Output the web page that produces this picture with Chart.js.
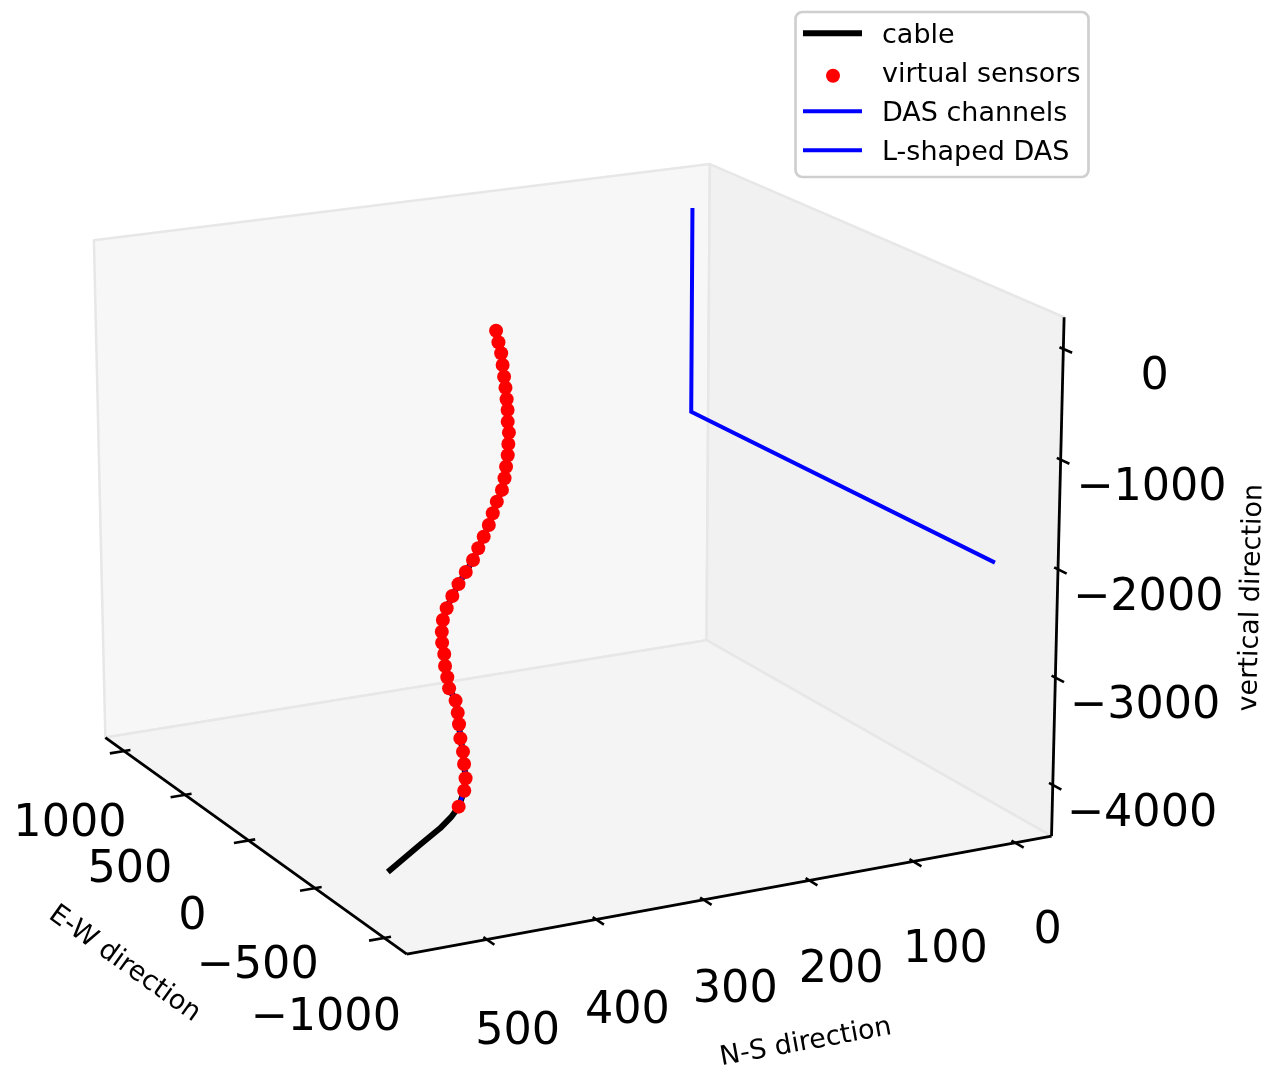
<!DOCTYPE html>
<html>
<head>
<meta charset="utf-8">
<script src="https://cdn.jsdelivr.net/npm/chart.js@4.4.1/dist/chart.umd.min.js"></script>
<style>
  html, body { margin: 0; padding: 0; background: #ffffff; }
  canvas { display: block; }
</style>
</head>
<body>
<canvas id="chart" width="1269" height="1067"></canvas>
<script>
// Virtual sensor stations along the well, one every 100 m of depth (metres)
const sensorEW = [-136, -145, -149, -159, -169, -171, -179, -178, -186, -187,
                  -190, -193, -196, -200, -204, -205, -206, -208, -209, -208,
                  -208, -209, -210, -211, -216, -219, -226, -228, -235, -248,
                  -256, -261, -284, -299, -308, -340, -366, -381, -414, -427, -463];
const sensorNS = [354, 353, 351, 351, 351, 350, 350, 349, 350, 349,
                  350, 351, 353, 355, 358, 363, 367, 371, 376, 381,
                  386, 393, 400, 406, 412, 416, 418, 418, 417, 418,
                  417, 416, 413, 413, 413, 416, 417, 418, 421, 424, 434];
const sensorZ = [0, -100, -200, -300, -400, -500, -600, -700, -800, -900,
                 -1000, -1100, -1200, -1300, -1400, -1500, -1600, -1700, -1800, -1900,
                 -2000, -2100, -2200, -2300, -2400, -2500, -2600, -2700, -2800, -2900,
                 -3000, -3100, -3200, -3300, -3400, -3500, -3600, -3700, -3800, -3900, -4000];

// Cable below the deepest sensor
const tailEW = [-519, -575, -646, -761];
const tailNS = [448, 466, 494, 538];
const tailZ = [-4020, -4048, -4091, -4159];

// L-shaped DAS fibre: vertical leg then horizontal leg
const lEW = [996, 996, -1004];
const lNS = [5, 5, 1];
const lZ = [0, -2000, -2000];

// Tick values of the three axes
const ewTicks = [-1000, -500, 0, 500, 1000];
const nsTicks = [0, 100, 200, 300, 400, 500];
const zTicks = [-4000, -3000, -2000, -1000, 0];

// Limits of the 3-D box
const ewLim = [-1158, 1158];
const nsLim = [-36, 572];
const zLim = [-4481, 284];

// ---- 3-D view: perspective camera looking at a 4:4:3 box ----
const VIEW = { elev: 17, azim: 152.5, dist: 17.5 };
const BOX = [1, 1, 0.75];          // half extents of the box
const WIN_X = [-1.599, 1.976];     // visible window of the projection plane
const WIN_Y = [-1.503, 1.511];

const RAD = Math.PI / 180;
const ce = Math.cos(VIEW.elev * RAD), se = Math.sin(VIEW.elev * RAD);
const ca = Math.cos(VIEW.azim * RAD), sa = Math.sin(VIEW.azim * RAD);
const EYE = [ce * ca, ce * sa, se];
const RIGHT = [-sa, ca, 0];
const UP = [-se * ca, -se * sa, ce];
const dot = (a, b) => a[0] * b[0] + a[1] * b[1] + a[2] * b[2];

function toBox(ew, ns, z) {
  return [
    BOX[0] * (2 * (ew - ewLim[0]) / (ewLim[1] - ewLim[0]) - 1),
    BOX[1] * (2 * (ns - nsLim[0]) / (nsLim[1] - nsLim[0]) - 1),
    BOX[2] * (2 * (z - zLim[0]) / (zLim[1] - zLim[0]) - 1)
  ];
}
function projBox(p) {
  const f = VIEW.dist / (VIEW.dist - dot(p, EYE));
  return { x: dot(p, RIGHT) * f, y: dot(p, UP) * f };
}
const project = (ew, ns, z) => projBox(toBox(ew, ns, z));
const track = (ew, ns, z) => ew.map((v, i) => project(v, ns[i], z[i]));

const cablePts = track(sensorEW.concat(tailEW), sensorNS.concat(tailNS), sensorZ.concat(tailZ));
const sensorPts = track(sensorEW, sensorNS, sensorZ);
const lPts = track(lEW, lNS, lZ);

const FONT = '"DejaVu Sans", "Liberation Sans", sans-serif';

// Panes, axis lines, ticks and labels of the 3-D box
const box3d = {
  id: 'box3d',
  beforeDatasetsDraw(chart) {
    const { ctx, scales: { x, y } } = chart;
    const px = p => { const q = projBox(p); return [x.getPixelForValue(q.x), y.getPixelForValue(q.y)]; };
    const h = BOX[2];
    const panes = [
      { pts: [[1, 1, -h], [1, -1, -h], [1, -1, h], [1, 1, h]], fill: '#f7f7f7' },
      { pts: [[1, -1, -h], [-1, -1, -h], [-1, -1, h], [1, -1, h]], fill: '#f1f1f1' },
      { pts: [[-1, 1, -h], [-1, -1, -h], [1, -1, -h], [1, 1, -h]], fill: '#f4f4f4' }
    ];
    ctx.save();
    panes.forEach(pn => {
      ctx.beginPath();
      pn.pts.forEach((p, i) => { const [a, b] = px(p); i ? ctx.lineTo(a, b) : ctx.moveTo(a, b); });
      ctx.closePath();
      ctx.fillStyle = pn.fill;
      ctx.fill();
      ctx.strokeStyle = '#e7e7e7';
      ctx.lineWidth = 2.5;
      ctx.lineJoin = 'round';
      ctx.stroke();
    });

    const seg = (p, q, w) => {
      const [a, b] = px(p), [c, d] = px(q);
      ctx.beginPath(); ctx.moveTo(a, b); ctx.lineTo(c, d);
      ctx.lineWidth = w; ctx.strokeStyle = '#000'; ctx.stroke();
    };
    const text = (p, s, size, angle) => {
      const [a, b] = px(p);
      ctx.save();
      ctx.translate(a, b);
      if (angle) ctx.rotate(angle);
      ctx.font = size + 'px ' + FONT;
      ctx.fillStyle = '#000';
      ctx.textAlign = 'center';
      ctx.textBaseline = 'middle';
      ctx.fillText(s, 0, 0.06 * size);
      ctx.restore();
    };
    const fmt = v => (v < 0 ? '\u2212' + Math.abs(v) : String(v));
    const angleOf = (p, q) => {
      const [a, b] = px(p), [c, d] = px(q);
      let ang = Math.atan2(d - b, c - a);
      if (ang > Math.PI / 2) ang -= Math.PI;
      if (ang <= -Math.PI / 2) ang += Math.PI;
      return ang;
    };
    const out = 0.045, inw = 0.02;   // tick extent outside / inside the box
    const tickFont = 44.5, titleFont = 27, axisW = 2.8, tickW = 2.6;
    ctx.lineCap = 'butt';

    // E-W axis
    seg([1, 1, -h], [-1, 1, -h], axisW);
    ewTicks.forEach(v => {
      const n = toBox(v, nsLim[1], zLim[0]);
      seg([n[0], 1 + out, -h], [n[0], 1 - inw, -h], tickW);
      text([n[0], 1.175, -h - 0.19], fmt(v), tickFont);
    });
    text([0, 1.38, -h - 0.297], 'E-W direction', titleFont, angleOf([1, 1, -h], [-1, 1, -h]));

    // N-S axis
    seg([-1, 1, -h], [-1, -1, -h], axisW);
    nsTicks.forEach(v => {
      const n = toBox(ewLim[0], v, zLim[0]);
      seg([-1 - out, n[1], -h], [-1 + inw, n[1], -h], tickW);
      text([-1.18, n[1], -h - 0.195], fmt(v), tickFont);
    });
    text([-1.38, 0, -h - 0.297], 'N-S direction', titleFont, angleOf([-1, 1, -h], [-1, -1, -h]));

    // vertical axis
    seg([-1, -1, -h], [-1, -1, h], axisW);
    zTicks.forEach(v => {
      const n = toBox(ewLim[0], nsLim[0], v);
      seg([-1 - out, -1, n[2]], [-1 + inw, -1, n[2]], tickW);
      text([-1.18, -1.18, n[2] - 0.052], fmt(v), tickFont);
    });
    text([-1.38, -1.38, 0], 'vertical direction', titleFont, angleOf([-1, -1, -h], [-1, -1, h]));
    ctx.restore();
  },
  afterDraw(chart) {
    // legend box in the upper right corner
    const { ctx } = chart;
    const bx = 795.5, by = 12, bw = 293, bh = 165, r = 7;
    ctx.save();
    ctx.beginPath();
    ctx.moveTo(bx + r, by);
    ctx.arcTo(bx + bw, by, bx + bw, by + bh, r);
    ctx.arcTo(bx + bw, by + bh, bx, by + bh, r);
    ctx.arcTo(bx, by + bh, bx, by, r);
    ctx.arcTo(bx, by, bx + bw, by, r);
    ctx.closePath();
    ctx.fillStyle = 'rgba(255,255,255,0.8)';
    ctx.fill();
    ctx.strokeStyle = '#cfcfcf';
    ctx.lineWidth = 2.7;
    ctx.stroke();

    const order = ['cable', 'virtual sensors', 'DAS channels', 'L-shaped DAS'];
    order.forEach((lab, i) => {
      const ds = chart.data.datasets.find(d => d.label === lab);
      const yy = 34 + i * 39;
      if (ds.showLine) {
        ctx.beginPath();
        ctx.moveTo(803, yy - 0.7);
        ctx.lineTo(862, yy - 0.7);
        ctx.strokeStyle = ds.borderColor;
        ctx.lineWidth = ds.borderWidth;
        ctx.lineCap = 'butt';
        ctx.stroke();
      } else {
        ctx.beginPath();
        ctx.arc(833, yy + 2.7, ds.pointRadius, 0, 2 * Math.PI);
        ctx.fillStyle = ds.pointBackgroundColor;
        ctx.fill();
      }
      ctx.font = '27px ' + FONT;
      ctx.fillStyle = '#000';
      ctx.textAlign = 'left';
      ctx.textBaseline = 'middle';
      ctx.fillText(lab, 882, yy + 1.5);
    });
    ctx.restore();
  }
};

new Chart(document.getElementById('chart'), {
  type: 'scatter',
  data: {
    datasets: [
      {
        label: 'cable', data: cablePts, showLine: true,
        borderColor: '#000000', borderWidth: 6, pointRadius: 0,
        borderJoinStyle: 'round', borderCapStyle: 'butt', order: 4
      },
      {
        label: 'virtual sensors', data: sensorPts, showLine: false,
        pointRadius: 7, pointBackgroundColor: '#ff0000', pointBorderWidth: 0,
        pointBorderColor: '#ff0000', order: 1
      },
      {
        label: 'DAS channels', data: sensorPts, showLine: true,
        borderColor: '#0000ff', borderWidth: 4, pointRadius: 0, order: 3
      },
      {
        label: 'L-shaped DAS', data: lPts, showLine: true,
        borderColor: '#0000ff', borderWidth: 4, pointRadius: 0,
        borderJoinStyle: 'miter', order: 2
      }
    ]
  },
  options: {
    responsive: false,
    animation: false,
    events: [],
    layout: { padding: 0, autoPadding: false },
    scales: {
      x: { type: 'linear', min: WIN_X[0], max: WIN_X[1], display: false },
      y: { type: 'linear', min: WIN_Y[0], max: WIN_Y[1], display: false }
    },
    plugins: { legend: { display: false }, tooltip: { enabled: false } }
  },
  plugins: [box3d]
});
</script>
</body>
</html>
